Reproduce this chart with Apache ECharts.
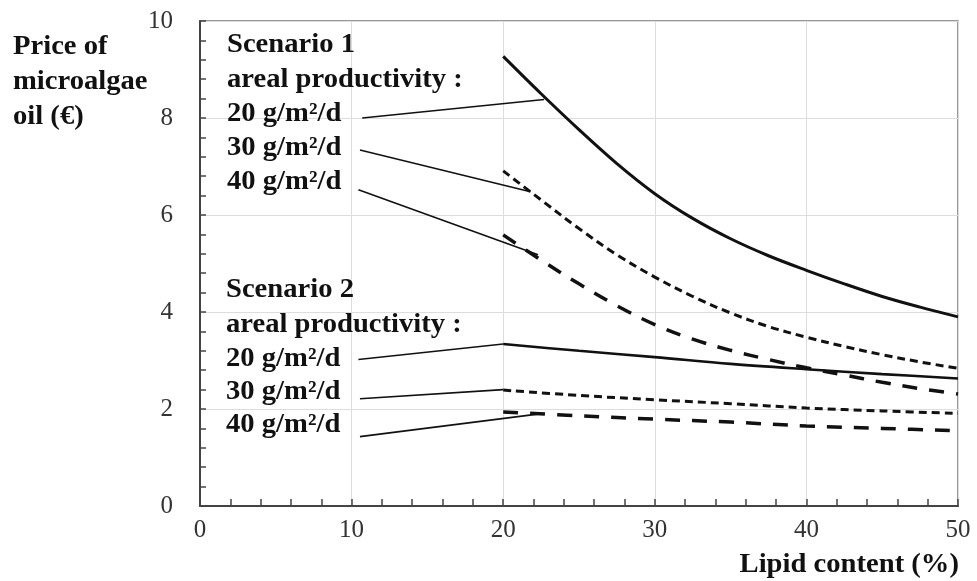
<!DOCTYPE html>
<html>
<head>
<meta charset="utf-8">
<script src="https://cdn.jsdelivr.net/npm/echarts@6/dist/echarts.min.js"></script>
<style>
  html, body { margin: 0; padding: 0; background: #fff; }
  #graphe { width: 977px; height: 581px; }
</style>
</head>
<body>
<div id="graphe"></div>
<script>
// lipid content (%) where the curves were read
const s1Lipid = [20, 22.5, 25, 27.5, 30, 32.5, 35, 37.5, 40, 42.5, 45, 47.5, 50];
const s1Prod20 = [9.27, 8.50, 7.76, 7.06, 6.44, 5.93, 5.51, 5.16, 4.86, 4.58, 4.32, 4.10, 3.90];
const s1Prod30 = [6.91, 6.31, 5.72, 5.18, 4.72, 4.32, 3.98, 3.70, 3.48, 3.29, 3.12, 2.97, 2.84];
const s1Prod40 = [5.59, 5.07, 4.58, 4.13, 3.74, 3.44, 3.21, 3.02, 2.85, 2.70, 2.55, 2.42, 2.31];

const s2Lipid = [20, 25, 30, 35, 40, 45, 50];
const s2Prod20 = [3.34, 3.20, 3.07, 2.93, 2.82, 2.72, 2.63];
const s2Prod30 = [2.39, 2.28, 2.19, 2.11, 2.02, 1.96, 1.91];
const s2Prod40 = [1.94, 1.86, 1.79, 1.73, 1.65, 1.60, 1.55];

// pointer lines from the labels to the curves (data units)
const leaderS1_20 = [[10.7, 8.00], [22.7, 8.38]];
const leaderS1_30 = [[10.55, 7.34], [21.8, 6.48]];
const leaderS1_40 = [[10.45, 6.52], [22.3, 5.18]];
const leaderS2_20 = [[10.45, 3.02], [20, 3.34]];
const leaderS2_30 = [[10.55, 2.21], [20, 2.40]];
const leaderS2_40 = [[10.55, 1.43], [22.4, 1.90]];

const xTicks = [0, 10, 20, 30, 40, 50];
const yTicks = [0, 2, 4, 6, 8, 10];

const serif = '"Liberation Serif", "Times New Roman", serif';
const ink = '#111';

const pairs = (xs, ys) => xs.map((x, i) => [x, ys[i]]);

function curve(name, data, width, type) {
    return {
        name: name,
        type: 'line',
        data: data,
        showSymbol: false,
        smooth: 0.35,
        silent: true,
        z: 3,
        lineStyle: { color: ink, width: width, type: type }
    };
}

function leader(data) {
    return {
        type: 'line',
        data: data,
        showSymbol: false,
        silent: true,
        z: 4,
        lineStyle: { color: ink, width: 1.6, type: 'solid' }
    };
}

// the source picture is a bit stretched sideways, hence scaleX
function label(text, x, y, opts) {
    return {
        type: 'text',
        x: x,
        y: y,
        z: 10,
        scaleX: 1.06,
        style: Object.assign({
            text: text,
            font: 'bold 27px ' + serif,
            fill: ink,
            verticalAlign: 'middle'
        }, opts || {})
    };
}

const chart = echarts.init(document.getElementById('graphe'));

chart.setOption({
    animation: false,
    backgroundColor: '#fff',
    grid: {
        left: 200, right: 19, top: 21, bottom: 75,
        show: true, borderColor: '#777', borderWidth: 1.5
    },
    xAxis: {
        type: 'value',
        min: xTicks[0],
        max: xTicks[xTicks.length - 1],
        interval: 10,
        axisLine: { lineStyle: { color: '#444', width: 2 } },
        axisTick: { inside: true, length: 7, lineStyle: { color: '#444', width: 1.5 } },
        minorTick: { show: true, splitNumber: 5, length: 7, lineStyle: { color: '#444', width: 1.5 } },
        splitLine: { show: true, lineStyle: { color: '#ddd', width: 1 } },
        axisLabel: { color: '#333', fontFamily: serif, fontSize: 25, margin: 12 }
    },
    yAxis: {
        type: 'value',
        min: yTicks[0],
        max: yTicks[yTicks.length - 1],
        interval: 2,
        axisLine: { show: true, lineStyle: { color: '#444', width: 2 } },
        axisTick: { show: true, inside: true, length: 6, lineStyle: { color: '#444', width: 1.5 } },
        minorTick: { show: true, splitNumber: 5, length: 6, lineStyle: { color: '#444', width: 1.5 } },
        splitLine: { show: true, lineStyle: { color: '#ddd', width: 1 } },
        axisLabel: { color: '#333', fontFamily: serif, fontSize: 25, margin: 27 }
    },
    series: [
        curve('Scenario 1 - 20 g/m²/d', pairs(s1Lipid, s1Prod20), 3, 'solid'),
        curve('Scenario 1 - 30 g/m²/d', pairs(s1Lipid, s1Prod30), 3, [8, 5]),
        curve('Scenario 1 - 40 g/m²/d', pairs(s1Lipid, s1Prod40), 3.5, [15, 12]),
        curve('Scenario 2 - 20 g/m²/d', pairs(s2Lipid, s2Prod20), 2.6, 'solid'),
        curve('Scenario 2 - 30 g/m²/d', pairs(s2Lipid, s2Prod30), 3, [8, 5]),
        curve('Scenario 2 - 40 g/m²/d', pairs(s2Lipid, s2Prod40), 3.5, [15, 12]),
        leader(leaderS1_20),
        leader(leaderS1_30),
        leader(leaderS1_40),
        leader(leaderS2_20),
        leader(leaderS2_30),
        leader(leaderS2_40)
    ],
    graphic: [
        // y axis title
        label('Price of', 13, 47),
        label('microalgae', 13, 82),
        label('oil (€)', 13, 117),
        // x axis title
        label('Lipid content (%)', 959, 565, { align: 'right' }),
        // scenario 1 block
        label('Scenario 1', 227, 45),
        label('areal productivity :', 227, 80),
        label('20 g/m²/d', 227, 114),
        label('30 g/m²/d', 227, 148),
        label('40 g/m²/d', 227, 182),
        // scenario 2 block
        label('Scenario 2', 226, 290),
        label('areal productivity :', 226, 325),
        label('20 g/m²/d', 226, 359),
        label('30 g/m²/d', 226, 392),
        label('40 g/m²/d', 226, 425)
    ]
});
</script>
</body>
</html>
